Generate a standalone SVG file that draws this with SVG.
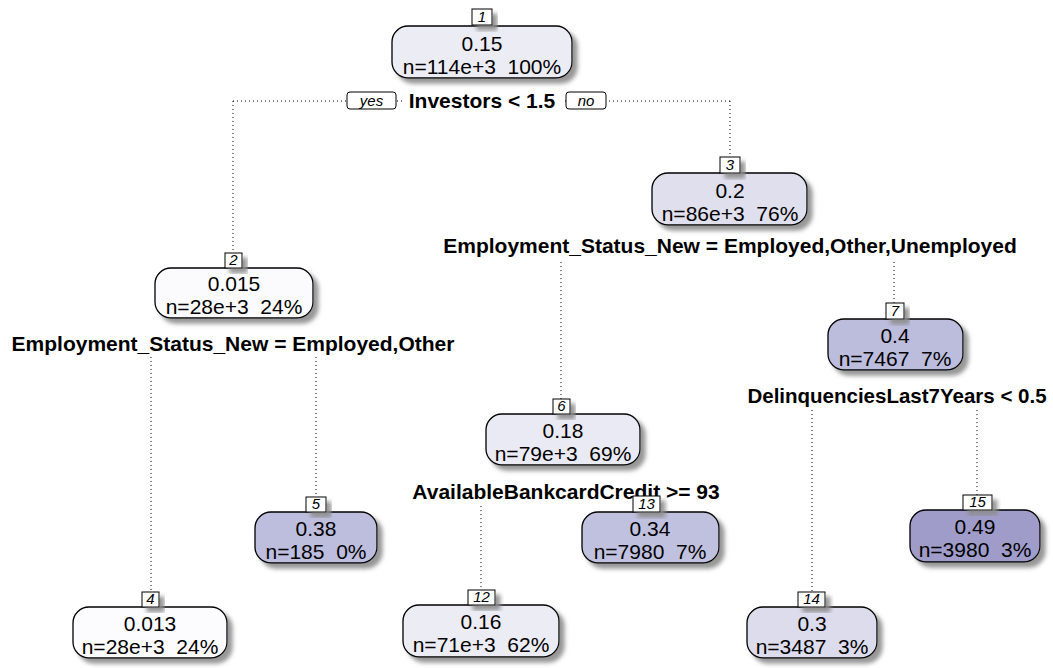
<svg xmlns="http://www.w3.org/2000/svg" width="1053" height="668" viewBox="0 0 1053 668">
  <style>
    .box { stroke: #000; stroke-width: 1.3; filter: url(#shadow); }
    .lab { fill: #fff; stroke: #000; stroke-width: 1; filter: url(#shadow); }
    .yn { fill: #fff; stroke: #000; stroke-width: 1; }
    .val { font-family: "Liberation Sans", Arial, sans-serif; font-size: 21px; text-anchor: middle; fill: #000; white-space: pre; }
    .num { font-family: "Liberation Sans", Arial, sans-serif; font-size: 15px; font-style: italic; text-anchor: middle; fill: #000; }
    .split { font-family: "Liberation Sans", Arial, sans-serif; font-size: 21px; font-weight: bold; text-anchor: middle; fill: #000; }
    .br { fill: none; stroke: #000; stroke-width: 1; stroke-dasharray: 1 3; }
  </style>
  <defs>
    <filter id="shadow" x="-20%" y="-20%" width="150%" height="160%">
      <feDropShadow dx="5" dy="5" stdDeviation="2" flood-color="#8c8c8c" flood-opacity="0.9"/>
    </filter>
  </defs>
  <rect width="1053" height="668" fill="#fff"/>

  <!-- branches -->
  <g id="connectors">
    <path class="br" d="M233 101 H730"/>
    <path class="br" d="M233 101 V254"/>
    <path class="br" d="M730 101 V157"/>
    <path class="br" d="M561 262 V399"/>
    <path class="br" d="M894 262 V303"/>
    <path class="br" d="M151 357 V592"/>
    <path class="br" d="M316 357 V497"/>
    <path class="br" d="M481 506 V590"/>
    <path class="br" d="M812 410 V592"/>
    <path class="br" d="M977 410 V495"/>
  </g>

  <!-- split labels -->
  <g id="splits">
    <rect x="404" y="90" width="158" height="22" fill="#fff"/>
    <text class="split" x="482" y="108">Investors &lt; 1.5</text>
    <rect class="yn" x="347" y="92" width="49" height="17" rx="3"/>
    <text class="num" x="371.5" y="106">yes</text>
    <rect class="yn" x="566" y="92" width="40" height="17" rx="3"/>
    <text class="num" x="586" y="106">no</text>
    <text class="split" x="730" y="253">Employment_Status_New = Employed,Other,Unemployed</text>
    <text class="split" x="233" y="351">Employment_Status_New = Employed,Other</text>
    <text class="split" x="897" y="403" style="font-size:20.5px">DelinquenciesLast7Years &lt; 0.5</text>
    <text class="split" x="566" y="499">AvailableBankcardCredit &gt;= 93</text>
  </g>

  <g id="node1">
    <rect class="box" x="392" y="26" width="180" height="52" rx="16" fill="#ececf5"/>
    <rect class="lab" x="472" y="9" width="20" height="16"/>
    <text class="num" x="482" y="22">1</text>
    <text class="val" x="482" y="51">0.15</text>
    <text class="val" x="482" y="74">n=114e+3  100%</text>
  </g>

  <g id="node3">
    <rect class="box" x="652" y="173" width="155" height="52" rx="16" fill="#dfdfee"/>
    <rect class="lab" x="720" y="157" width="20" height="16"/>
    <text class="num" x="730" y="170">3</text>
    <text class="val" x="730" y="198">0.2</text>
    <text class="val" x="730" y="221">n=86e+3  76%</text>
  </g>

  <g id="node2">
    <rect class="box" x="155" y="268" width="158" height="50" rx="16" fill="#fbfbfd"/>
    <rect class="lab" x="225" y="253" width="17" height="15"/>
    <text class="num" x="233.5" y="265">2</text>
    <text class="val" x="234" y="291">0.015</text>
    <text class="val" x="234" y="314">n=28e+3  24%</text>
  </g>

  <g id="node7">
    <rect class="box" x="828" y="319" width="135" height="51" rx="16" fill="#bcbcdc"/>
    <rect class="lab" x="886" y="303" width="18" height="16"/>
    <text class="num" x="895" y="316">7</text>
    <text class="val" x="895" y="343">0.4</text>
    <text class="val" x="895" y="366">n=7467  7%</text>
  </g>

  <g id="node6">
    <rect class="box" x="486" y="414" width="154" height="51" rx="16" fill="#eaeaf4"/>
    <rect class="lab" x="553" y="399" width="17" height="15"/>
    <text class="num" x="561.5" y="411">6</text>
    <text class="val" x="563" y="438">0.18</text>
    <text class="val" x="563" y="461">n=79e+3  69%</text>
  </g>

  <g id="node5">
    <rect class="box" x="255" y="512" width="122" height="51" rx="16" fill="#bdbddd"/>
    <rect class="lab" x="306" y="497" width="20" height="15"/>
    <text class="num" x="316" y="509">5</text>
    <text class="val" x="316" y="536">0.38</text>
    <text class="val" x="316" y="559">n=185  0%</text>
  </g>

  <g id="node13">
    <rect class="box" x="582" y="512" width="137" height="51" rx="16" fill="#c0c0df"/>
    <rect class="lab" x="633" y="496" width="27" height="16"/>
    <text class="num" x="646.5" y="509">13</text>
    <text class="val" x="650" y="536">0.34</text>
    <text class="val" x="650" y="559">n=7980  7%</text>
  </g>

  <g id="node15">
    <rect class="box" x="910" y="510" width="130" height="52" rx="16" fill="#9f9cc9"/>
    <rect class="lab" x="963" y="495" width="29" height="15"/>
    <text class="num" x="977.5" y="507">15</text>
    <text class="val" x="975" y="534">0.49</text>
    <text class="val" x="975" y="557">n=3980  3%</text>
  </g>

  <g id="node4">
    <rect class="box" x="73" y="607" width="154" height="51" rx="16" fill="#fcfcfe"/>
    <rect class="lab" x="142" y="592" width="17" height="15"/>
    <text class="num" x="150.5" y="604">4</text>
    <text class="val" x="150" y="631">0.013</text>
    <text class="val" x="150" y="654">n=28e+3  24%</text>
  </g>

  <g id="node12">
    <rect class="box" x="403" y="605" width="156" height="52" rx="16" fill="#ececf5"/>
    <rect class="lab" x="468" y="590" width="27" height="15"/>
    <text class="num" x="481.5" y="602">12</text>
    <text class="val" x="481" y="629">0.16</text>
    <text class="val" x="481" y="652">n=71e+3  62%</text>
  </g>

  <g id="node14">
    <rect class="box" x="747" y="607" width="130" height="51" rx="16" fill="#dcdcec"/>
    <rect class="lab" x="798" y="592" width="27" height="15"/>
    <text class="num" x="811.5" y="604">14</text>
    <text class="val" x="812" y="631">0.3</text>
    <text class="val" x="812" y="654">n=3487  3%</text>
  </g>
</svg>
